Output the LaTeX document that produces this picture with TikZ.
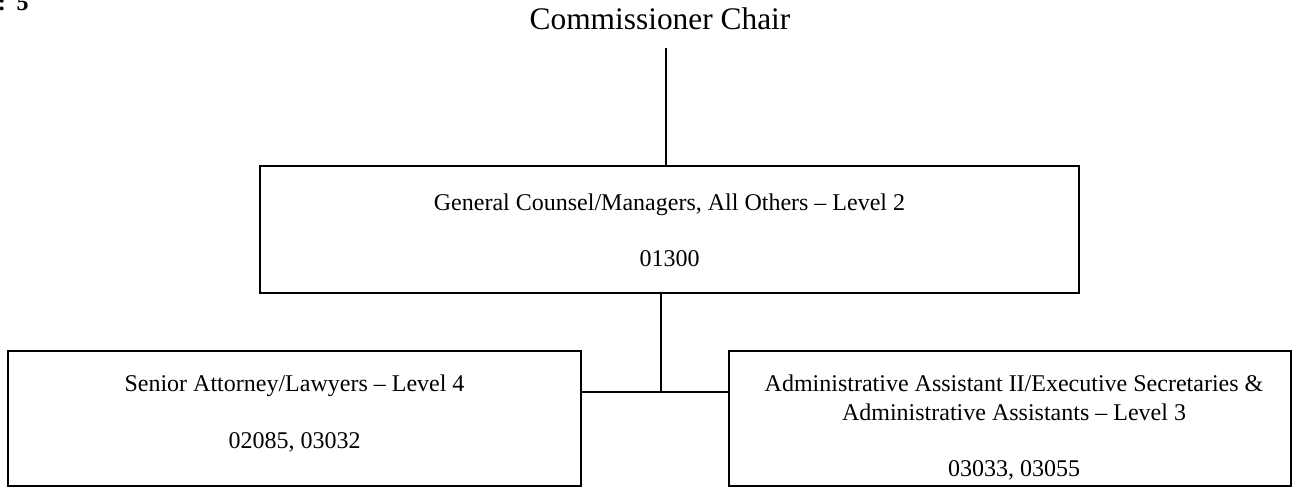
\documentclass[tikz,border=0pt]{standalone}
\usepackage{fontspec}
\setmainfont{Liberation Serif}
\begin{document}
\begin{tikzpicture}[x=0.5pt,y=-0.5pt,
  box/.style={draw=black,line width=1.1pt,rectangle,inner sep=0pt},
  link/.style={draw=black,line width=0.65pt},
  label/.style={anchor=base,inner sep=0pt,font=\fontsize{12}{14}\selectfont},
  head/.style={anchor=base,inner sep=0pt,font=\fontsize{15.7}{19}\selectfont}]
\useasboundingbox (0,0) rectangle (1292,488);

% page marker, partly cut off at the top edge
\node[label,anchor=base east,font=\fontsize{12}{14}\selectfont\bfseries] (pg) at (29,10) {:\hspace{0.45em}5};

% title
\node[head] (chair) at (660,29) {Commissioner Chair};

% boxes
\node[box,minimum width=409.5pt,minimum height=63.5pt] (gc) at (669.5,229.5) {};
\node[box,minimum width=286.5pt,minimum height=67.5pt] (sa) at (294.5,418.5) {};
\node[box,minimum width=281pt,minimum height=67.5pt] (aa) at (1010,418.5) {};

% box texts
\node[label] (gc1) at (669.5,210) {General Counsel/Managers, All Others -- Level 2};
\node[label] (gc2) at (669.5,266) {01300};
\node[label] (sa1) at (294.5,391) {Senior Attorney/Lawyers -- Level 4};
\node[label] (sa2) at (294.5,448) {02085, 03032};
\node[label] (aa1) at (1014,391) {Administrative Assistant II/Executive Secretaries \&};
\node[label] (aa2) at (1014,420) {Administrative Assistants -- Level 3};
\node[label] (aa3) at (1014,476) {03033, 03055};

% connectors
\coordinate (top) at (666,48);
\coordinate (j) at (661,392);
\draw[link] (top) -- (top |- gc.north);
\draw[link] (gc.south -| j) -- (j);
\draw[link] (sa.east |- j) -- (aa.west |- j);
\end{tikzpicture}
\end{document}
